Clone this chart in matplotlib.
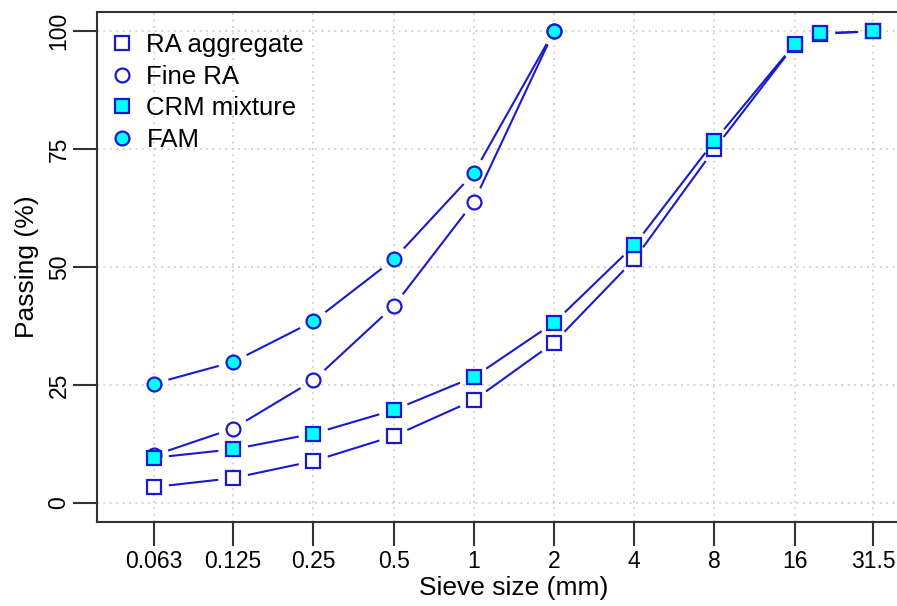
import numpy as np
import matplotlib
matplotlib.use("Agg")
import matplotlib.pyplot as plt

# tamanhos de peneira (mm) e % passante
sieve = [0.063, 0.125, 0.25, 0.5, 1, 2, 4, 8, 16, 20, 31.5]
sieve_fine = [0.063, 0.125, 0.25, 0.5, 1, 2]
tick_vals = [0.063, 0.125, 0.25, 0.5, 1, 2, 4, 8, 16, 31.5]
tick_labels = ["0.063", "0.125", "0.25", "0.5", "1", "2", "4", "8", "16", "31.5"]

ra_aggregate = [3.4, 5.3, 8.9, 14.2, 21.8, 34.0, 51.6, 75.0, 97.1, 99.4, 99.9]
crm_mixture = [9.6, 11.4, 14.7, 19.7, 26.7, 38.2, 54.6, 76.7, 97.2, 99.5, 99.9]
fine_ra = [10.1, 15.8, 26.0, 41.7, 63.8, 100.0]
fam = [25.3, 29.9, 38.5, 51.6, 69.9, 100.0]

plt.rcParams['font.family'] = ['Liberation Sans', 'DejaVu Sans']
LINE = '#1a1acd'
FILL = '#00ffff'

fig = plt.figure(figsize=(8.97, 6.06), dpi=100)
ax = fig.add_axes([97/897, 84/606, 833/897, 510/606])
ax.set_xscale('log', base=2)
ax.set_xlim(0.063 / 2**0.71, 31.5 * 2**0.71)
ax.set_ylim(-4, 104)

# grade pontilhada
for v in tick_vals:
    ax.axvline(v, color='#c8c8c8', lw=1.1, ls=(0, (1.2, 3)), zorder=0)
for v in [0, 25, 50, 75, 100]:
    ax.axhline(v, color='#c8c8c8', lw=1.1, ls=(0, (1.2, 3)), zorder=0)

def linha_b(x, y, gap=16):
    # linhas com intervalo em volta dos pontos (estilo type="b" do R)
    pts = ax.transData.transform(np.column_stack([x, y]))
    inv = ax.transData.inverted()
    for p0, p1 in zip(pts[:-1], pts[1:]):
        d = p1 - p0
        L = np.hypot(*d)
        if L <= 2 * gap:
            continue
        u = d / L
        a = inv.transform(p0 + u * gap)
        b = inv.transform(p1 - u * gap)
        ax.plot([a[0], b[0]], [a[1], b[1]], color=LINE, lw=1.5, zorder=2)

linha_b(sieve, ra_aggregate)
linha_b(sieve, crm_mixture)
linha_b(sieve_fine, fine_ra)
linha_b(sieve_fine, fam)

ms = 10
ax.plot(sieve, ra_aggregate, ls='none', marker='s', ms=ms, mfc='white', mec=LINE, mew=1.6, zorder=3, label='RA aggregate')
ax.plot(sieve_fine, fine_ra, ls='none', marker='o', ms=ms, mfc='white', mec=LINE, mew=1.6, zorder=3, label='Fine RA')
ax.plot(sieve, crm_mixture, ls='none', marker='s', ms=ms, mfc=FILL, mec=LINE, mew=1.6, zorder=4, label='CRM mixture')
ax.plot(sieve_fine, fam, ls='none', marker='o', ms=ms, mfc=FILL, mec=LINE, mew=1.6, zorder=4, label='FAM')

ax.set_xticks(tick_vals)
ax.set_xticklabels(tick_labels)
ax.minorticks_off()
ax.set_yticks([0, 25, 50, 75, 100])
ax.set_yticklabels(['0', '25', '50', '75', '100'], rotation=90, va='center')
ax.tick_params(axis='both', length=17, width=1.5, color='#333333', labelsize=16.5)
ax.tick_params(axis='x', pad=3)
ax.tick_params(axis='y', pad=2)
for s in ax.spines.values():
    s.set_color('#333333')
    s.set_linewidth(1.5)

ax.set_xlabel('Sieve size (mm)', fontsize=19, labelpad=2)
ax.set_ylabel('Passing (%)', fontsize=19)
ax.yaxis.set_label_coords(-0.0701, 0.5)

ax.legend(loc='upper left', bbox_to_anchor=(0.015, 0.959), frameon=False,
          fontsize=18.5, handletextpad=0.44, borderaxespad=0, borderpad=0,
          labelspacing=0.3, handlelength=1.0)

fig.savefig('out.png', dpi=100)
